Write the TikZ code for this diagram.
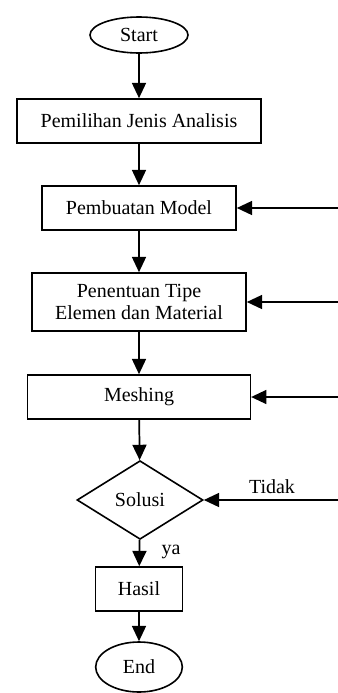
\documentclass[tikz,border=0pt]{standalone}
\usepackage{fontspec}
\setmainfont{Liberation Serif}
\usetikzlibrary{shapes.geometric,arrows.meta}
\tikzset{
  box/.style={draw,line width=1.2pt,inner sep=0pt,align=center},
  term/.style={draw,ellipse,line width=1.2pt,inner sep=0pt},
  decision/.style={draw,diamond,line width=1.2pt,inner sep=0pt,minimum width=94.5pt,minimum height=59pt},
  arr/.style={line width=1.3pt,-{Triangle[length=11.5pt,width=10.5pt]}}
}
\begin{document}
\begin{tikzpicture}[x=0.75pt,y=-0.75pt,font=\fontsize{15}{16}\selectfont]
        \useasboundingbox (0,0) rectangle (338,693);
        \node[term,minimum width=73.5pt,minimum height=27pt] (start) at (139,35) {Start};
        \node[box,minimum width=183pt,minimum height=33pt] (pilih) at (139,121) {Pemilihan Jenis Analisis};
        \node[box,minimum width=145.5pt,minimum height=33pt] (model) at (139,208) {Pembuatan Model};
        \node[box,minimum width=160.5pt,minimum height=43.5pt] (tipe) at (139,302) {Penentuan Tipe\\Elemen dan Material};
        \node[box,minimum width=167pt,minimum height=33pt] (mesh) at (139,397) {Meshing};
        \node[decision] (solusi) at (140,500) {Solusi};
        \node[box,minimum width=65pt,minimum height=33pt] (hasil) at (139,589) {Hasil};
        \node[term,minimum width=65pt,minimum height=37.5pt] (end) at (139,667) {End};
        % loop back inputs from the right edge
        \coordinate (r1) at (338,208);
        \coordinate (r2) at (338,302);
        \coordinate (r3) at (338,397);
        \coordinate (r4) at (338,500);
        \draw[arr] (start) -- (pilih);
        \draw[arr] (pilih) -- (model);
        \draw[arr] (model) -- (tipe);
        \draw[arr] (tipe) -- (mesh);
        \draw[arr] (mesh) -- (solusi);
        \draw[arr] (solusi) -- (hasil);
        \draw[arr] (hasil) -- (end);
        \draw[arr] (r1) -- (model);
        \draw[arr] (r2) -- (tipe);
        \draw[arr] (r3) -- (mesh);
        \draw[arr] (r4) -- (solusi);
        \node (tidak) at (272,487) {Tidak};
        \node (ya) at (171,552) {ya};
\end{tikzpicture}
\end{document}
